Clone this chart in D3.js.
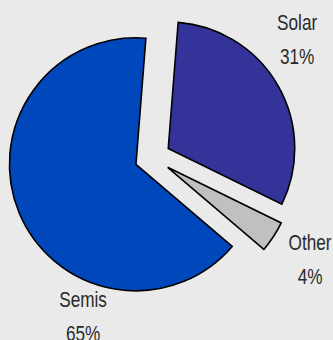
<!DOCTYPE html>
<html>
<head>
<meta charset="utf-8">
<script src="https://cdn.jsdelivr.net/npm/d3@7"></script>
<style>
  html, body { margin: 0; padding: 0; background: #eaeaea; }
  svg { display: block; }
  .lbl { font-family: "Liberation Sans", Arial, sans-serif; font-size: 21.5px; fill: #2a2a2a; }
</style>
</head>
<body>
<svg class="chart"></svg>
<script>
// data
const categories = ["Solar", "Other", "Semis"];
const shares = [31, 4, 65];
const shareLabels = ["31%", "4%", "65%"];
const colors = ["#333399", "#c0c0c0", "#0047bb"];

document.addEventListener('DOMContentLoaded', function() {
    const width = 333;
    const height = 340;
    const cx = 152.6, cy = 157.4;
    const radius = 126.5;
    const explode = 18;

    const svg = d3.select('.chart')
        .attr('width', width)
        .attr('height', height);

    svg.append('rect')
        .attr('width', width)
        .attr('height', height)
        .attr('fill', '#eaeaea');

    const g = svg.append('g')
        .attr('transform', `translate(${cx},${cy})`);

    const rows = categories.map((c, i) => ({ name: c, value: shares[i], pct: shareLabels[i], color: colors[i] }));

    const start = 4.5 * Math.PI / 180;
    const pie = d3.pie()
        .sort(null)
        .startAngle(start)
        .endAngle(start + 2 * Math.PI)
        .value(d => d.value);

    const arc = d3.arc()
        .innerRadius(0)
        .outerRadius(radius);

    const midAngle = d => (d.startAngle + d.endAngle) / 2;

    const slices = g.selectAll('.slice')
        .data(pie(rows))
        .enter().append('g')
        .attr('class', 'slice')
        .attr('transform', d => {
            const a = midAngle(d);
            return `translate(${Math.sin(a) * explode},${-Math.cos(a) * explode})`;
        });

    slices.append('path')
        .attr('d', arc)
        .attr('fill', d => d.data.color)
        .attr('stroke', '#000')
        .attr('stroke-width', 1.6)
        .attr('stroke-linejoin', 'miter');

    // label placement relative to the pie centre (x centre, baseline of first line)
    const labelPos = {
        Solar: [144.5, -127.5],
        Other: [157.5, 92.5],
        Semis: [-69.5, 149.5]
    };
    const lineGap = 34;

    // narrow look: squeeze the text horizontally
    const labels = g.selectAll('.lbl')
        .data(rows)
        .enter().append('g')
        .attr('transform', d => `translate(${labelPos[d.name][0]},${labelPos[d.name][1]}) scale(0.8,1)`);

    labels.append('text')
        .attr('class', 'lbl')
        .attr('text-anchor', 'middle')
        .text(d => d.name);

    labels.append('text')
        .attr('class', 'lbl')
        .attr('text-anchor', 'middle')
        .attr('y', lineGap)
        .text(d => d.pct);
});
</script>
</body>
</html>
